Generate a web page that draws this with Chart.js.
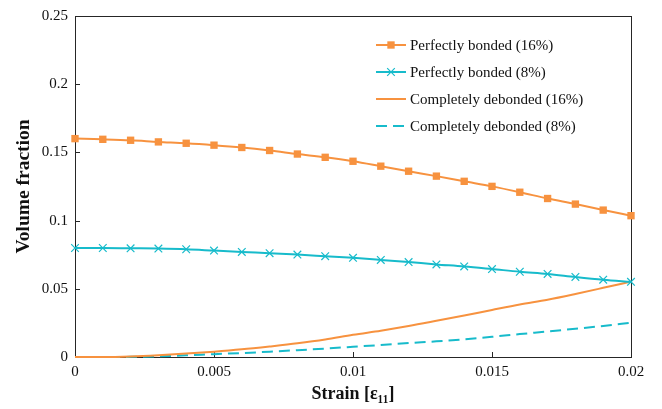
<!DOCTYPE html>
<html>
<head>
<meta charset="utf-8">
<script src="https://cdn.jsdelivr.net/npm/chart.js@4.4.1/dist/chart.umd.min.js"></script>
<style>
html,body{margin:0;padding:0;background:#fff;}
#wrap{width:662px;height:409px;position:relative;}
</style>
</head>
<body>
<div id="wrap"><canvas id="c" width="662" height="409"></canvas></div>
<script>
const strain = [0,0.001,0.002,0.003,0.004,0.005,0.006,0.007,0.008,0.009,0.010,0.011,0.012,0.013,0.014,0.015,0.016,0.017,0.018,0.019,0.020];
const bonded16 = [0.1601,0.1596,0.1589,0.1577,0.1567,0.1553,0.1536,0.1514,0.1488,0.1464,0.1435,0.1399,0.1362,0.1326,0.1288,0.1251,0.1208,0.1162,0.1121,0.1077,0.1036];
const bonded8 = [0.0799,0.0799,0.0797,0.0795,0.0790,0.0780,0.0770,0.0761,0.0751,0.0739,0.0727,0.0712,0.0696,0.0679,0.0664,0.0645,0.0625,0.0609,0.0587,0.0567,0.0551];
const debonded16 = [0,0,0.0004,0.0013,0.0025,0.0039,0.0056,0.0077,0.0100,0.0128,0.0163,0.0193,0.0227,0.0265,0.0304,0.0345,0.0385,0.0420,0.0462,0.0507,0.0553];
const debonded8 = [0,0,0.0001,0.0005,0.0012,0.0021,0.0029,0.0039,0.0050,0.0062,0.0075,0.0088,0.0102,0.0115,0.0130,0.0148,0.0168,0.0187,0.0207,0.0228,0.0251];
const seriesLabels = ['Perfectly bonded (16%)','Perfectly bonded (8%)','Completely debonded (16%)','Completely debonded (8%)'];
const xTicks = [0,0.005,0.01,0.015,0.02];
const yTicks = [0,0.05,0.1,0.15,0.2,0.25];

const ORANGE = '#F7923F';
const CYAN = '#17BBCB';
const SERIF = '"Liberation Serif","Times New Roman","DejaVu Serif",serif';

const pts = arr => strain.map((s,i)=>({x:s,y:arr[i]}));

const boxPlugin = {
  id:'boxTicks',
  beforeDatasetsDraw(chart){
    const {ctx, chartArea:a, scales:{x,y}} = chart;
    ctx.save();
    ctx.strokeStyle = '#262626';
    ctx.lineWidth = 1;
    ctx.strokeRect(Math.round(a.left)+0.5, Math.round(a.top)+0.5, Math.round(a.right-a.left), Math.round(a.bottom-a.top));
    ctx.beginPath();
    xTicks.forEach(v=>{
      const px = Math.round(x.getPixelForValue(v))+0.5;
      ctx.moveTo(px, a.bottom); ctx.lineTo(px, a.bottom-5);
    });
    yTicks.forEach(v=>{
      const py = Math.round(y.getPixelForValue(v))+0.5;
      ctx.moveTo(a.left, py); ctx.lineTo(a.left+5, py);
    });
    ctx.stroke();
    ctx.restore();
  }
};

const legendPlugin = {
  id:'customLegend',
  afterDraw(chart){
    const {ctx} = chart;
    const x0 = 376, len = 30, y0 = 45, dy = 27;
    ctx.save();
    ctx.font = '15px ' + SERIF;
    ctx.textBaseline = 'middle';
    chart.data.datasets.forEach((ds,i)=>{
      const yy = y0 + i*dy;
      ctx.strokeStyle = ds.borderColor;
      ctx.lineWidth = ds.borderWidth;
      ctx.setLineDash(ds.borderDash || []);
      ctx.beginPath(); ctx.moveTo(x0, yy); ctx.lineTo(x0+len, yy); ctx.stroke();
      ctx.setLineDash([]);
      if (ds.pointRadius > 0) {
        ctx.fillStyle = ds.backgroundColor;
        ctx.strokeStyle = ds.borderColor;
        ctx.lineWidth = ds.pointBorderWidth || 0;
        Chart.helpers.drawPoint(ctx, {pointStyle: ds.pointStyle, radius: ds.pointRadius, borderWidth: ds.pointBorderWidth || 0}, x0+len/2, yy);
      }
      ctx.fillStyle = '#111';
      ctx.fillText(ds.label, x0+len+4, yy+1);
    });
    ctx.restore();
  }
};

new Chart(document.getElementById('c'), {
  type:'line',
  data:{
    datasets:[
      {label:seriesLabels[0], data:pts(bonded16), borderColor:ORANGE, backgroundColor:ORANGE, borderWidth:2, pointStyle:'rect', pointRadius:5.2, pointBorderWidth:0, cubicInterpolationMode:'monotone', clip:8},
      {label:seriesLabels[1], data:pts(bonded8), borderColor:CYAN, backgroundColor:CYAN, borderWidth:2, pointStyle:'crossRot', pointRadius:5.4, pointBorderWidth:1.2, cubicInterpolationMode:'monotone', clip:8},
      {label:seriesLabels[2], data:pts(debonded16), borderColor:ORANGE, backgroundColor:ORANGE, borderWidth:2, pointRadius:0, cubicInterpolationMode:'monotone', clip:8},
      {label:seriesLabels[3], data:pts(debonded8), borderColor:CYAN, backgroundColor:CYAN, borderWidth:2, borderDash:[11,6], pointRadius:0, cubicInterpolationMode:'monotone', clip:8}
    ]
  },
  options:{
    responsive:false,
    animation:false,
    layout:{padding:{top:12,right:31,left:0,bottom:0}},
    plugins:{legend:{display:false}, tooltip:{enabled:false}},
    scales:{
      x:{
        type:'linear', min:0, max:0.02,
        afterBuildTicks: s => { s.ticks = xTicks.map(v=>({value:v})); },
        afterFit: s => { s.height = 52; },
        grid:{display:false, drawTicks:false}, border:{display:false},
        ticks:{padding:6, color:'#111', font:{family:SERIF, size:15}, maxRotation:0, autoSkip:false,
          callback: v => String(Number(v.toFixed(4)))},
        title:{display:true, text:'Strain [ε₁₁]', color:'#111', font:{family:SERIF, size:18, weight:'bold'}, padding:{top:0,bottom:4}}
      },
      y:{
        type:'linear', min:0, max:0.25,
        afterBuildTicks: s => { s.ticks = yTicks.map(v=>({value:v})); },
        afterFit: s => { s.width = 75; },
        grid:{display:false, drawTicks:false}, border:{display:false},
        ticks:{padding:7, color:'#111', font:{family:SERIF, size:15}, autoSkip:false,
          callback: v => String(Number(v.toFixed(4)))},
        title:{display:true, text:'Volume fraction', color:'#111', font:{family:SERIF, size:19.5, weight:'bold'}, padding:{top:12,bottom:0}}
      }
    }
  },
  plugins:[boxPlugin, legendPlugin]
});
</script>
</body>
</html>
